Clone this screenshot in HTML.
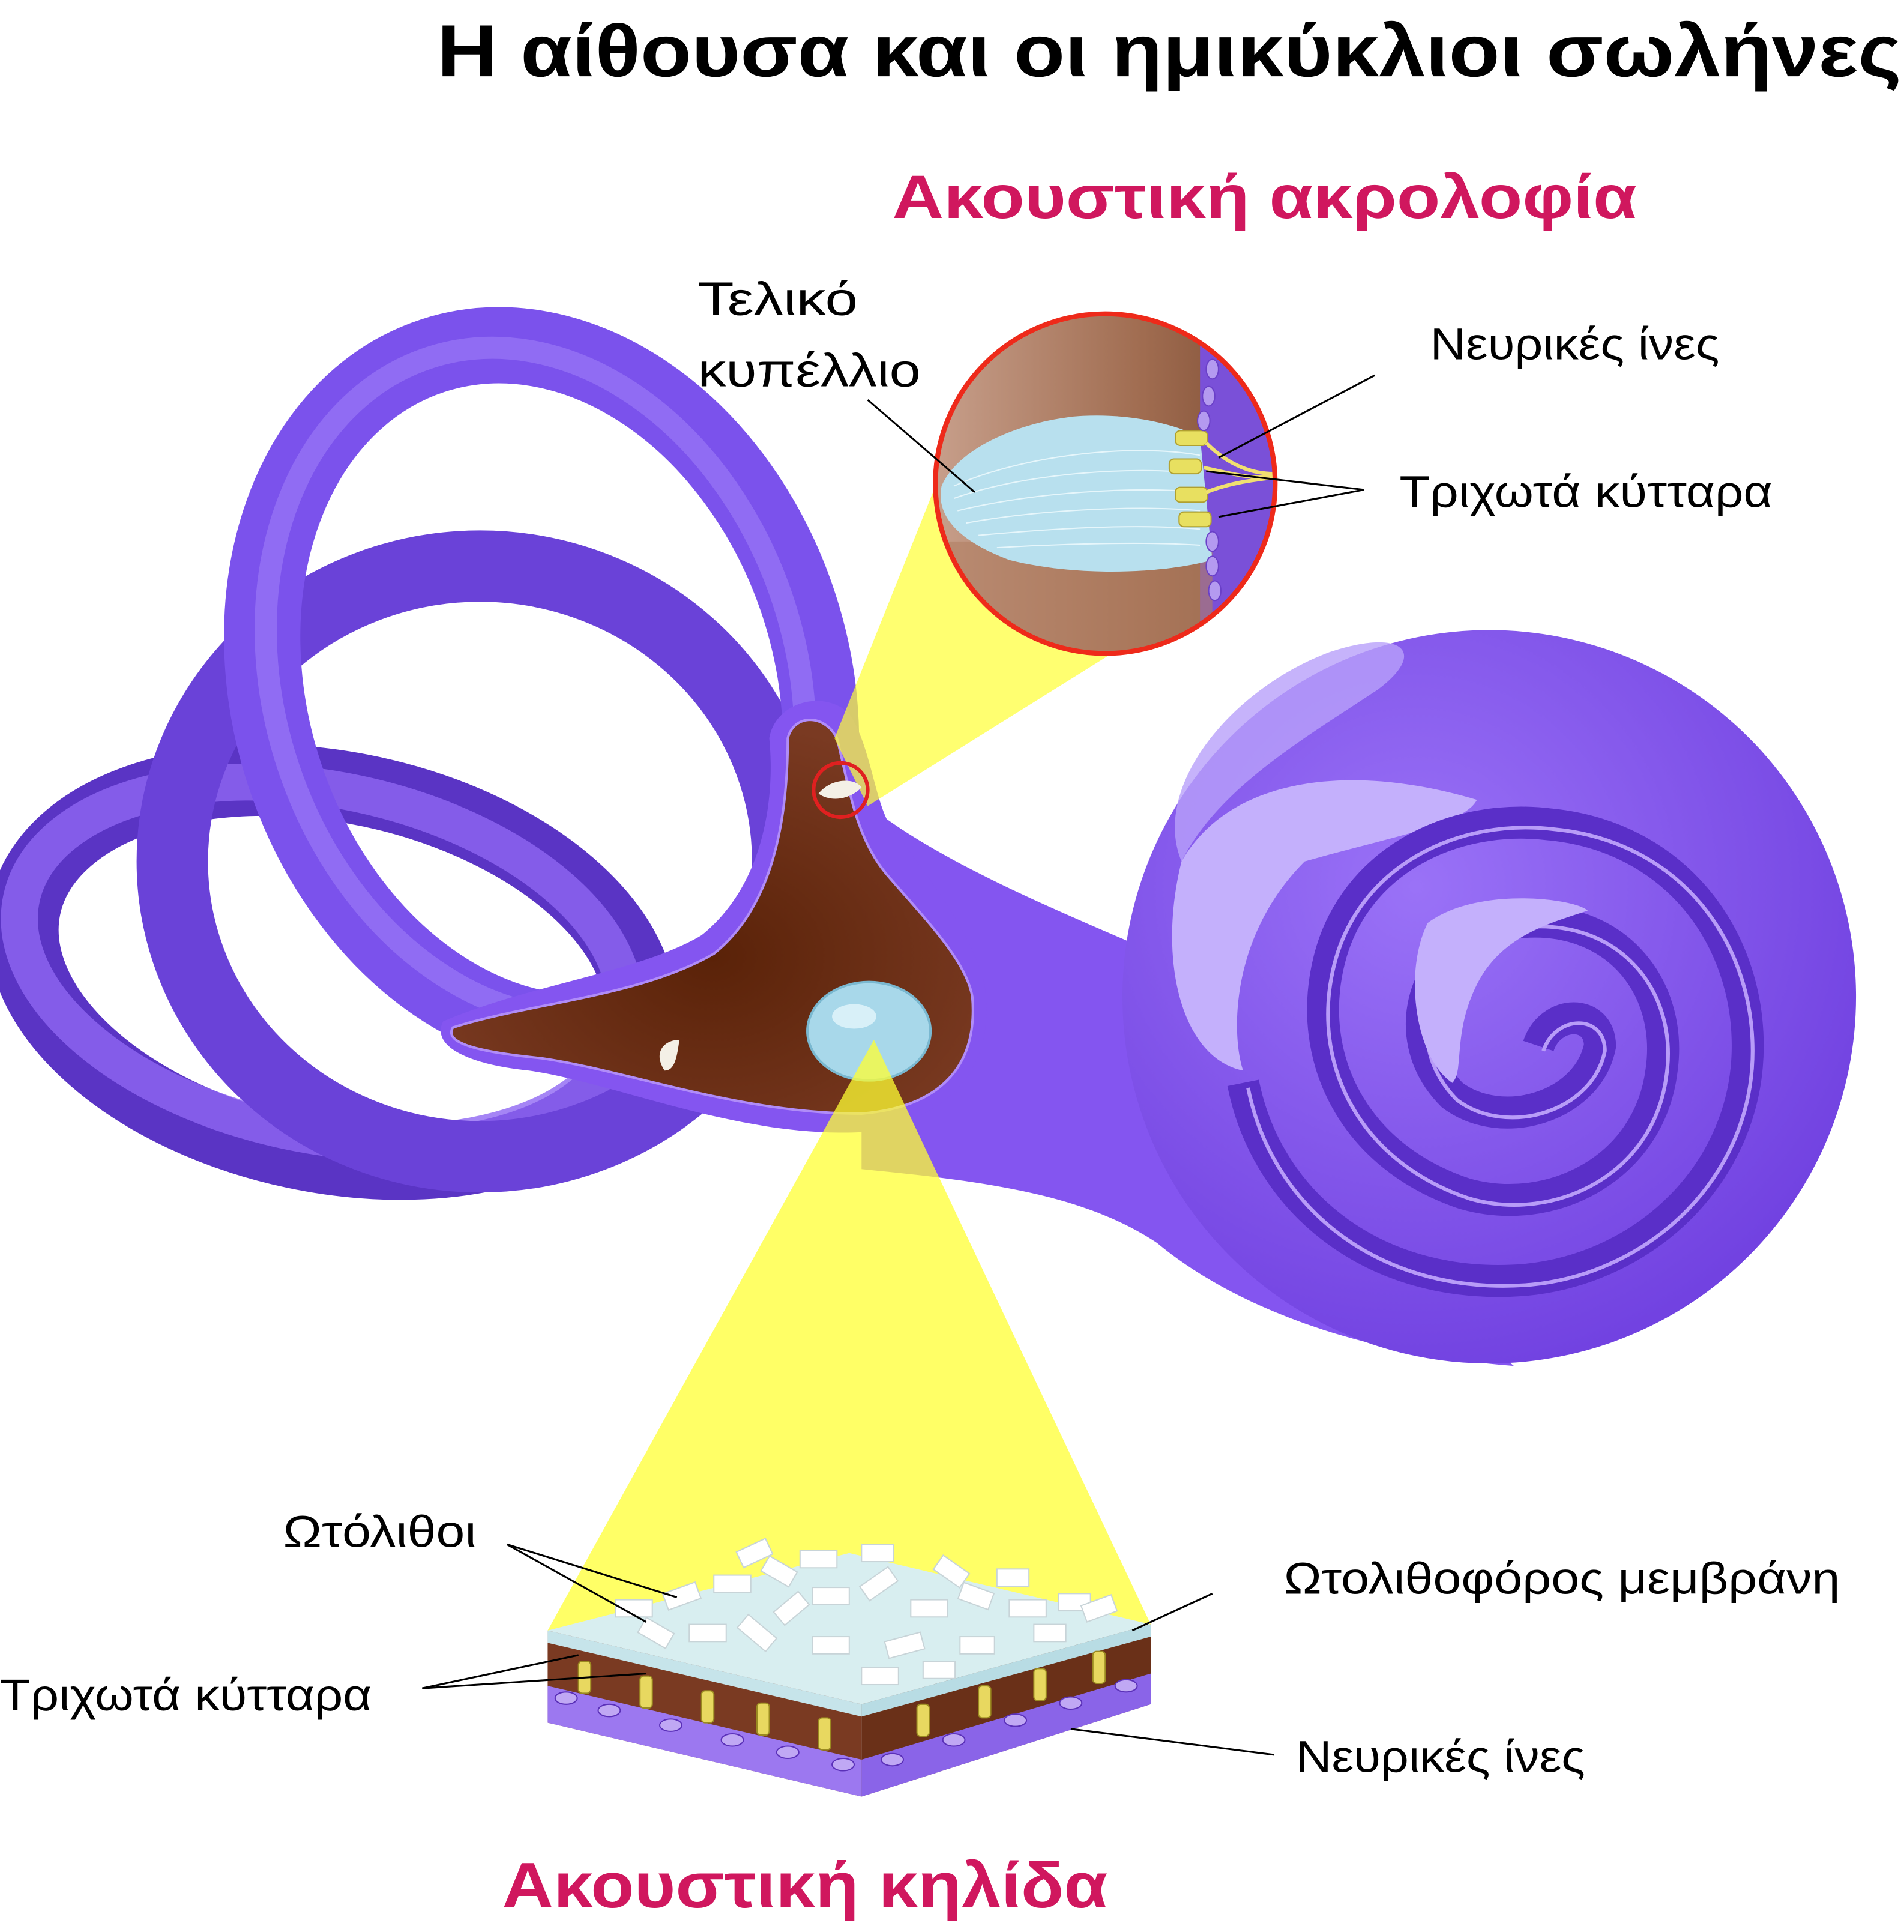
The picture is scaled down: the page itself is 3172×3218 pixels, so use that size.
<!DOCTYPE html>
<html><head><meta charset="utf-8">
<style>
html,body{margin:0;padding:0;background:#fff;}
svg{display:block;}
text{font-family:"Liberation Sans","DejaVu Sans",sans-serif;}
</style></head>
<body>
<svg width="3172" height="3218" viewBox="0 0 1547 1570" preserveAspectRatio="none" xmlns="http://www.w3.org/2000/svg">
<defs>
<radialGradient id="coch" cx="0.4" cy="0.35" r="0.7">
<stop offset="0" stop-color="#9a72f7"/><stop offset="1" stop-color="#7040e0"/></radialGradient>
<linearGradient id="brownG" x1="0" x2="1"><stop offset="0" stop-color="#c8a08c"/><stop offset="0.6" stop-color="#a06c50"/><stop offset="1" stop-color="#7a4a32"/></linearGradient>
<radialGradient id="ves" cx="0.5" cy="0.6" r="0.6"><stop offset="0" stop-color="#5a2208"/><stop offset="1" stop-color="#7a3a22"/></radialGradient>
<clipPath id="cc"><circle cx="898" cy="393" r="138"/></clipPath>
</defs>

<!-- canals -->
<ellipse cx="270" cy="790" rx="255" ry="150" transform="rotate(12 270 790)" fill="none" stroke="#5a34c4" stroke-width="58"/>
<ellipse cx="262" cy="782" rx="250" ry="140" transform="rotate(12 262 782)" fill="none" stroke="#8f66f2" stroke-width="30" opacity="0.8"/>
<ellipse cx="390" cy="700" rx="250" ry="240" fill="none" stroke="#6a42d8" stroke-width="58"/>
<ellipse cx="440" cy="560" rx="220" ry="285" transform="rotate(-18 440 560)" fill="none" stroke="#7b52ec" stroke-width="62"/>
<ellipse cx="435" cy="555" rx="212" ry="278" transform="rotate(-18 435 555)" fill="none" stroke="#9a78f6" stroke-width="18" opacity="0.7"/>

<!-- neck -->
<path d="M700 650 C760 700 860 740 940 775 L1100 1000 L1230 1110 C1100 1100 1000 1060 940 1010 C880 970 800 960 700 950 Z" fill="#8455f0"/>

<!-- vestibule -->
<path d="M360 830 C430 800 520 790 570 760 C620 720 630 650 625 600 C630 570 670 560 690 580 C710 610 710 660 730 680 C760 720 790 760 800 800 C810 870 770 910 700 920 C600 925 500 880 430 870 C380 865 350 850 360 830 Z" fill="#8455f0"/>
<path d="M368 835 C430 815 520 810 580 775 C630 735 640 660 640 600 C645 580 670 580 680 600 C690 640 695 680 720 710 C750 745 785 780 790 810 C795 870 760 900 700 905 C600 905 510 870 440 860 C390 855 360 848 368 835 Z" fill="url(#ves)" stroke="#b08cf8" stroke-width="2"/>
<path d="M540 870 C530 855 540 845 552 845 C550 860 548 870 540 870 Z" fill="#f4f0e6"/>
<ellipse cx="706" cy="838" rx="50" ry="40" fill="#a8d8ea" stroke="#7ab8d0" stroke-width="2"/>
<ellipse cx="694" cy="826" rx="18" ry="10" fill="#d8f0f8"/>

<!-- cochlea -->
<circle cx="1210" cy="810" r="298" fill="url(#coch)"/>
<path d="M1080 530 C1140 510 1160 530 1120 560 C1060 600 990 640 960 700 C935 640 1000 560 1080 530 Z" fill="#b8a0fa" opacity="0.8"/>
<path d="M960 700 C1000 630 1100 620 1200 650 C1190 670 1130 680 1060 700 C1000 760 1000 840 1010 870 C960 860 940 780 960 700 Z" fill="#c4b0fc"/>
<path d="M1250 850 C1260 820 1300 820 1300 850 C1290 900 1220 920 1180 890 C1130 840 1160 760 1230 750 C1310 740 1360 800 1350 870 C1340 950 1260 990 1190 970 C1100 940 1060 860 1080 780 C1100 700 1180 660 1260 670 C1360 680 1420 760 1420 850 C1420 950 1340 1030 1240 1040 C1120 1050 1030 980 1010 880" fill="none" stroke="#5a2fc8" stroke-width="26"/>
<path d="M1250 850 C1260 820 1300 820 1300 850 C1290 900 1220 920 1180 890 C1130 840 1160 760 1230 750 C1310 740 1360 800 1350 870 C1340 950 1260 990 1190 970 C1100 940 1060 860 1080 780 C1100 700 1180 660 1260 670 C1360 680 1420 760 1420 850 C1420 950 1340 1030 1240 1040 C1120 1050 1030 980 1010 880" fill="none" stroke="#b89cf8" stroke-width="3" transform="translate(4 4)"/>
<path d="M1160 750 C1200 720 1280 730 1290 740 C1260 750 1220 760 1200 800 C1180 840 1190 870 1180 880 C1150 860 1140 790 1160 750 Z" fill="#c4b0fc"/>

<!-- yellow beams -->
<polygon points="678,600 770,370 945,505 705,655" fill="#ffff33" opacity="0.7"/>
<polygon points="710,845 445,1325 935,1320" fill="#ffff33" opacity="0.75"/>

<!-- small circle -->
<circle cx="683" cy="642" r="22" fill="none" stroke="#e02020" stroke-width="3"/>
<path d="M665 645 C675 632 695 632 700 640 C690 650 675 652 665 645 Z" fill="#f4f0e6"/>

<!-- big circle -->
<g clip-path="url(#cc)">
<rect x="755" y="250" width="290" height="290" fill="url(#brownG)"/>
<rect x="975" y="250" width="70" height="290" fill="#7a50d8"/>
<rect x="755" y="440" width="230" height="100" fill="#b07e62" opacity="0.6"/>
<path d="M765 395 C780 360 840 340 880 338 C920 336 955 345 975 355 L985 455 C950 465 880 470 820 455 C780 440 760 420 765 395 Z" fill="#b8e0ee"/>
<g stroke="#e6f6fb" stroke-width="1" fill="none">
<path d="M775 395 C830 370 920 360 975 370"/><path d="M775 405 C830 385 920 378 975 385"/><path d="M778 415 C840 400 920 395 975 400"/><path d="M785 425 C840 415 920 410 975 415"/><path d="M795 435 C850 430 920 425 975 430"/><path d="M810 445 C860 442 930 440 975 443"/>
</g>
<g fill="#e8e060" stroke="#b0a030" stroke-width="1">
<rect x="955" y="350" width="26" height="12" rx="4"/><rect x="950" y="373" width="26" height="12" rx="4"/><rect x="955" y="396" width="26" height="12" rx="4"/><rect x="958" y="416" width="26" height="12" rx="4"/>
</g>
<g fill="#b49af0" stroke="#6a40c8">
<ellipse cx="985" cy="300" rx="5" ry="8"/><ellipse cx="982" cy="322" rx="5" ry="8"/><ellipse cx="978" cy="342" rx="5" ry="8"/><ellipse cx="985" cy="440" rx="5" ry="8"/><ellipse cx="985" cy="460" rx="5" ry="8"/><ellipse cx="987" cy="480" rx="5" ry="8"/>
</g>
<path d="M980 360 C1000 380 1020 385 1035 385 M978 380 C1000 385 1020 390 1035 387 M980 400 C1000 392 1020 390 1035 388" stroke="#f0e070" stroke-width="3" fill="none"/>
</g>
<circle cx="898" cy="393" r="138" fill="none" stroke="#ee2a1a" stroke-width="4"/>

<!-- slab -->
<polygon points="445,1325 700,1385 935,1320 690,1262" fill="#d8eef0"/>
<polygon points="445,1325 700,1385 700,1460 445,1400" fill="#7a3a22"/>
<polygon points="700,1385 935,1320 935,1385 700,1460" fill="#6a3018"/>
<polygon points="445,1370 700,1430 700,1460 445,1400" fill="#9c78f0"/>
<polygon points="700,1430 935,1360 935,1385 700,1460" fill="#8a64e8"/>
<polygon points="445,1325 700,1385 700,1395 445,1335" fill="#c6e4ea"/>
<polygon points="700,1385 935,1320 935,1330 700,1395" fill="#b8dce4"/>
<g fill="#ffffff" stroke="#c8d4d8" stroke-width="1">
<rect x="500" y="1300" width="30" height="14"/><rect x="540" y="1290" width="28" height="14" transform="rotate(-20 554 1297)"/><rect x="580" y="1280" width="30" height="14"/><rect x="620" y="1270" width="26" height="14" transform="rotate(30 633 1277)"/><rect x="660" y="1290" width="30" height="14"/><rect x="700" y="1280" width="28" height="14" transform="rotate(-35 714 1287)"/><rect x="740" y="1300" width="30" height="14"/><rect x="780" y="1290" width="26" height="14" transform="rotate(20 793 1297)"/><rect x="820" y="1300" width="30" height="14"/><rect x="860" y="1295" width="26" height="14"/><rect x="600" y="1320" width="30" height="14" transform="rotate(40 615 1327)"/><rect x="660" y="1330" width="30" height="14"/><rect x="720" y="1330" width="30" height="14" transform="rotate(-15 735 1337)"/><rect x="780" y="1330" width="28" height="14"/><rect x="560" y="1320" width="30" height="14"/><rect x="650" y="1260" width="30" height="14"/><rect x="700" y="1355" width="30" height="14"/><rect x="840" y="1320" width="26" height="14"/>
<rect x="600" y="1255" width="26" height="14" transform="rotate(-25 613 1262)"/><rect x="700" y="1255" width="26" height="14"/><rect x="760" y="1270" width="26" height="14" transform="rotate(35 773 1277)"/><rect x="520" y="1320" width="26" height="14" transform="rotate(30 533 1327)"/><rect x="630" y="1300" width="26" height="14" transform="rotate(-40 643 1307)"/><rect x="810" y="1275" width="26" height="14"/><rect x="880" y="1300" width="26" height="14" transform="rotate(-20 893 1307)"/><rect x="750" y="1350" width="26" height="14"/>
</g>
<g fill="#e8d860" stroke="#9a8a20">
<rect x="470" y="1350" width="10" height="26" rx="3"/><rect x="520" y="1362" width="10" height="26" rx="3"/><rect x="570" y="1374" width="10" height="26" rx="3"/><rect x="615" y="1384" width="10" height="26" rx="3"/><rect x="665" y="1396" width="10" height="26" rx="3"/><rect x="745" y="1385" width="10" height="26" rx="3"/><rect x="795" y="1370" width="10" height="26" rx="3"/><rect x="840" y="1356" width="10" height="26" rx="3"/><rect x="888" y="1342" width="10" height="26" rx="3"/>
</g>
<g fill="#c0a8f4" stroke="#5a30b8">
<ellipse cx="460" cy="1380" rx="9" ry="5"/><ellipse cx="495" cy="1390" rx="9" ry="5"/><ellipse cx="545" cy="1402" rx="9" ry="5"/><ellipse cx="595" cy="1414" rx="9" ry="5"/><ellipse cx="640" cy="1424" rx="9" ry="5"/><ellipse cx="685" cy="1434" rx="9" ry="5"/><ellipse cx="725" cy="1430" rx="9" ry="5"/><ellipse cx="775" cy="1414" rx="9" ry="5"/><ellipse cx="825" cy="1398" rx="9" ry="5"/><ellipse cx="870" cy="1384" rx="9" ry="5"/><ellipse cx="915" cy="1370" rx="9" ry="5"/>
</g>

<!-- leader lines -->
<g stroke="#000" stroke-width="1.5" fill="none">
<line x1="705" y1="325" x2="792" y2="400"/>
<line x1="1117" y1="305" x2="990" y2="372"/>
<line x1="1108" y1="398" x2="980" y2="383"/><line x1="1108" y1="398" x2="990" y2="420"/>
<line x1="412" y1="1255" x2="550" y2="1298"/><line x1="412" y1="1255" x2="525" y2="1318"/>
<line x1="985" y1="1295" x2="920" y2="1325"/>
<line x1="343" y1="1372" x2="470" y2="1345"/><line x1="343" y1="1372" x2="525" y2="1360"/>
<line x1="1035" y1="1426" x2="870" y2="1405"/>
</g>

<!-- text -->
<text x="355" y="62" font-size="60" font-weight="bold" fill="#000" textLength="1190" lengthAdjust="spacingAndGlyphs">Η αίθουσα και οι ημικύκλιοι σωλήνες</text>
<text x="725" y="177" font-size="50" font-weight="bold" fill="#d0175e" textLength="605" lengthAdjust="spacingAndGlyphs">Ακουστική ακρολοφία</text>
<text x="567" y="256" font-size="38" fill="#000" textLength="130" lengthAdjust="spacingAndGlyphs">Τελικό</text>
<text x="567" y="314" font-size="38" fill="#000" textLength="181" lengthAdjust="spacingAndGlyphs">κυπέλλιο</text>
<text x="1162" y="292" font-size="36" fill="#000" textLength="235" lengthAdjust="spacingAndGlyphs">Νευρικές ίνες</text>
<text x="1137" y="412" font-size="36" fill="#000" textLength="303" lengthAdjust="spacingAndGlyphs">Τριχωτά κύτταρα</text>
<text x="230" y="1257" font-size="36" fill="#000" textLength="157" lengthAdjust="spacingAndGlyphs">Ωτόλιθοι</text>
<text x="1043" y="1295" font-size="36" fill="#000" textLength="452" lengthAdjust="spacingAndGlyphs">Ωτολιθοφόρος μεμβράνη</text>
<text x="0" y="1390" font-size="36" fill="#000" textLength="302" lengthAdjust="spacingAndGlyphs">Τριχωτά κύτταρα</text>
<text x="1053" y="1440" font-size="36" fill="#000" textLength="235" lengthAdjust="spacingAndGlyphs">Νευρικές ίνες</text>
<text x="408" y="1550" font-size="52" font-weight="bold" fill="#d0175e" textLength="492" lengthAdjust="spacingAndGlyphs">Ακουστική κηλίδα</text>
</svg>
</body></html>
